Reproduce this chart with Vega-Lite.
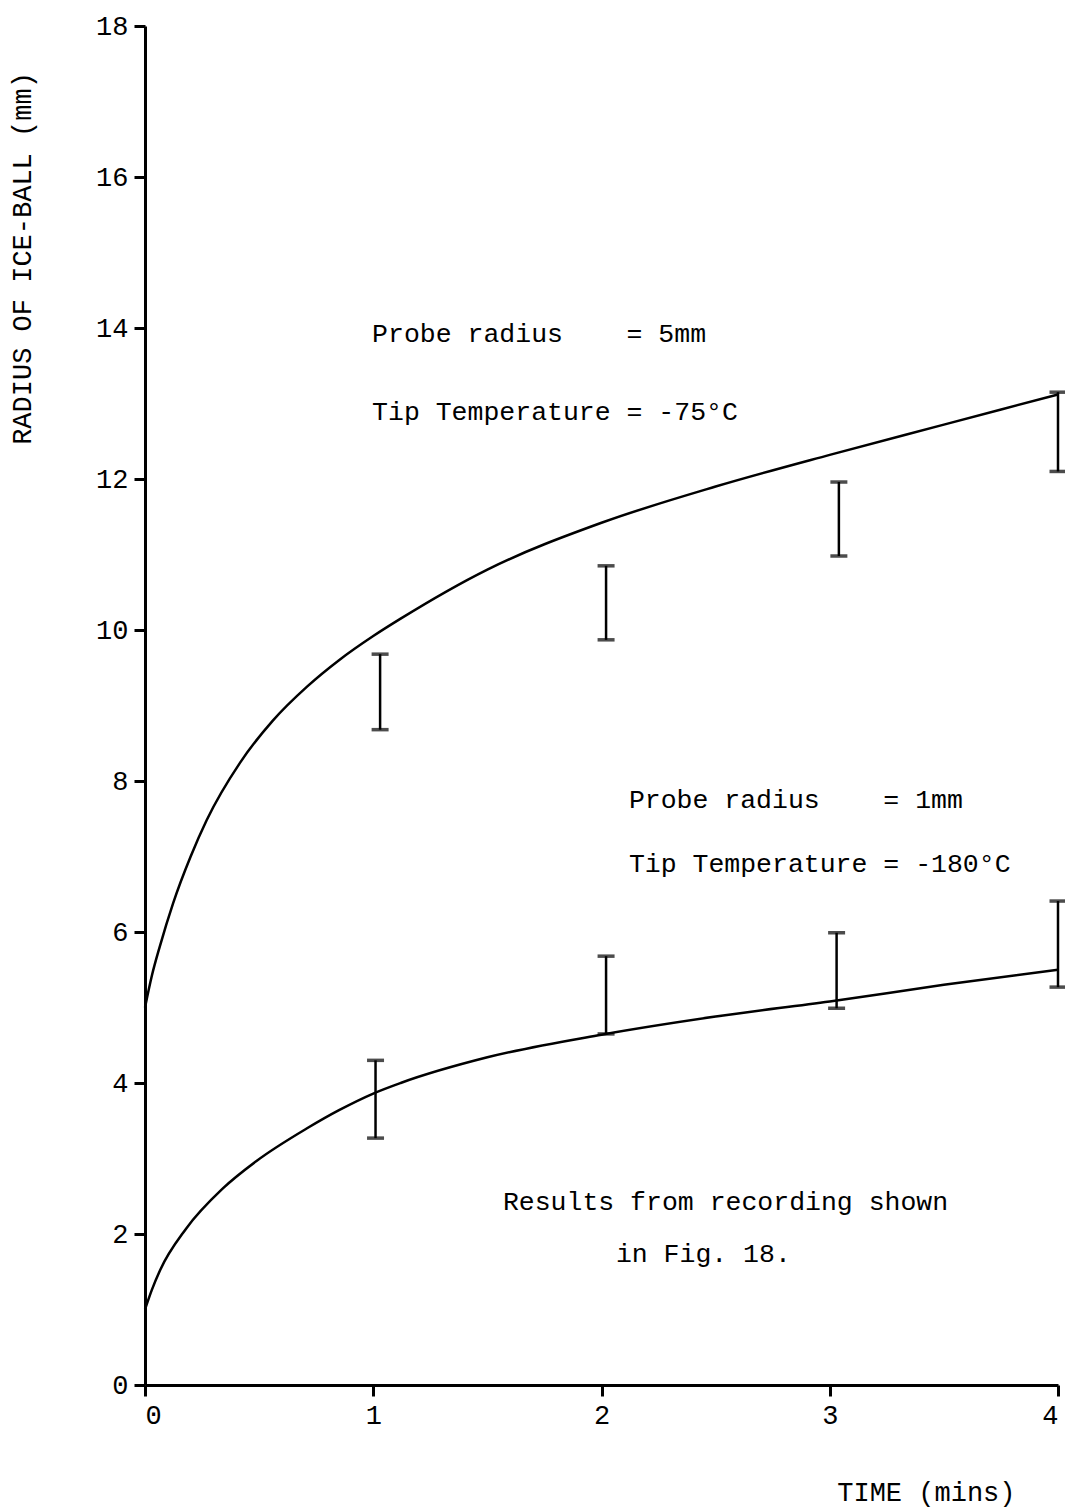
{
  "$schema": "https://vega.github.io/schema/vega-lite/v6.json",
  "width": 913,
  "height": 1359,
  "autosize": {"type": "none"},
  "padding": {"left": 145, "top": 26, "right": 7, "bottom": 125},
  "background": "white",
  "config": {
    "view": {"stroke": null},
    "font": "Liberation Mono",
    "axis": {
      "domainColor": "black", "domainWidth": 3, "tickColor": "black", "tickWidth": 3, "tickSize": 11,
      "labelFont": "Liberation Mono", "labelFontSize": 27, "labelColor": "black",
      "titleFont": "Liberation Mono", "titleFontSize": 27, "titleColor": "black", "titleFontWeight": "normal",
      "grid": false
    }
  },
  "datasets": {
    "curves": [
      {"series": "5mm", "t": 0, "r": 5.0},
      {"series": "5mm", "t": 0.03, "r": 5.42},
      {"series": "5mm", "t": 0.066, "r": 5.82},
      {"series": "5mm", "t": 0.123, "r": 6.38},
      {"series": "5mm", "t": 0.2, "r": 7.0},
      {"series": "5mm", "t": 0.27, "r": 7.48},
      {"series": "5mm", "t": 0.416, "r": 8.24},
      {"series": "5mm", "t": 0.56, "r": 8.8},
      {"series": "5mm", "t": 0.71, "r": 9.25},
      {"series": "5mm", "t": 0.85, "r": 9.6},
      {"series": "5mm", "t": 1.0, "r": 9.92},
      {"series": "5mm", "t": 1.12, "r": 10.15},
      {"series": "5mm", "t": 1.5, "r": 10.8},
      {"series": "5mm", "t": 2.0, "r": 11.42},
      {"series": "5mm", "t": 2.5, "r": 11.9},
      {"series": "5mm", "t": 3.0, "r": 12.32},
      {"series": "5mm", "t": 3.5, "r": 12.72},
      {"series": "5mm", "t": 4.0, "r": 13.12},
      {"series": "1mm", "t": 0, "r": 1.0},
      {"series": "1mm", "t": 0.03, "r": 1.26},
      {"series": "1mm", "t": 0.066, "r": 1.52},
      {"series": "1mm", "t": 0.18, "r": 2.07},
      {"series": "1mm", "t": 0.34, "r": 2.6},
      {"series": "1mm", "t": 0.49, "r": 2.97},
      {"series": "1mm", "t": 0.71, "r": 3.4},
      {"series": "1mm", "t": 0.85, "r": 3.64},
      {"series": "1mm", "t": 1.0, "r": 3.86},
      {"series": "1mm", "t": 1.12, "r": 4.0},
      {"series": "1mm", "t": 1.5, "r": 4.34},
      {"series": "1mm", "t": 2.0, "r": 4.64},
      {"series": "1mm", "t": 2.5, "r": 4.88},
      {"series": "1mm", "t": 3.0, "r": 5.08},
      {"series": "1mm", "t": 3.5, "r": 5.3},
      {"series": "1mm", "t": 4.0, "r": 5.5}
    ],
    "bars": [
      {"series": "5mm", "t": 1.03, "lo": 8.68, "hi": 9.68},
      {"series": "5mm", "t": 2.02, "lo": 9.87, "hi": 10.85},
      {"series": "5mm", "t": 3.04, "lo": 10.98, "hi": 11.96},
      {"series": "5mm", "t": 4.0, "lo": 12.1, "hi": 13.15},
      {"series": "1mm", "t": 1.01, "lo": 3.27, "hi": 4.3},
      {"series": "1mm", "t": 2.02, "lo": 4.65, "hi": 5.68},
      {"series": "1mm", "t": 3.03, "lo": 4.99, "hi": 5.99},
      {"series": "1mm", "t": 4.0, "lo": 5.27, "hi": 6.41}
    ],
    "notes": [
      {"t": 0.995, "r": 13.81, "label": "Probe radius\u00a0\u00a0\u00a0\u00a0= 5mm"},
      {"t": 0.995, "r": 12.78, "label": "Tip Temperature = -75°C"},
      {"t": 2.12, "r": 7.64, "label": "Probe radius\u00a0\u00a0\u00a0\u00a0= 1mm"},
      {"t": 2.12, "r": 6.79, "label": "Tip Temperature = -180°C"},
      {"t": 1.568, "r": 2.32, "label": "Results from recording shown"},
      {"t": 2.063, "r": 1.63, "label": "in Fig. 18."}
    ]
  },
  "layer": [
    {
      "data": {"name": "curves"},
      "mark": {"type": "line", "interpolate": "monotone", "color": "black", "strokeWidth": 2.5},
      "encoding": {
        "x": {"field": "t", "type": "quantitative", "scale": {"domain": [0, 4], "nice": false},
          "axis": {"values": [0, 1, 2, 3, 4], "format": "d", "title": "TIME (mins)", "labelPadding": 6,
            "titleX": 870, "titleY": 107, "titleAlign": "right", "titleBaseline": "middle", "titleAnchor": null}},
        "y": {"field": "r", "type": "quantitative", "scale": {"domain": [0, 18], "nice": false},
          "axis": {"values": [0, 2, 4, 6, 8, 10, 12, 14, 16, 18], "format": "d", "title": "RADIUS OF ICE-BALL (mm)", "labelPadding": 6,
            "titleX": -123, "titleY": 232, "titleAngle": 270, "titleAlign": "center", "titleBaseline": "middle", "titleAnchor": null}},
        "detail": {"field": "series"}
      }
    },
    {
      "data": {"name": "bars"},
      "mark": {"type": "errorbar", "ticks": {"size": 17, "thickness": 3.5, "color": "black"}, "rule": {"strokeWidth": 2.5, "color": "black"}},
      "encoding": {
        "x": {"field": "t", "type": "quantitative", "title": "TIME (mins)"},
        "y": {"field": "lo", "type": "quantitative", "title": "RADIUS OF ICE-BALL (mm)"},
        "y2": {"field": "hi"}
      }
    },
    {
      "data": {"name": "notes"},
      "mark": {"type": "text", "align": "left", "baseline": "alphabetic", "font": "Liberation Mono", "fontSize": 26.5, "color": "black"},
      "encoding": {
        "x": {"field": "t", "type": "quantitative", "title": "TIME (mins)"},
        "y": {"field": "r", "type": "quantitative", "title": "RADIUS OF ICE-BALL (mm)"},
        "text": {"field": "label"}
      }
    }
  ]
}
